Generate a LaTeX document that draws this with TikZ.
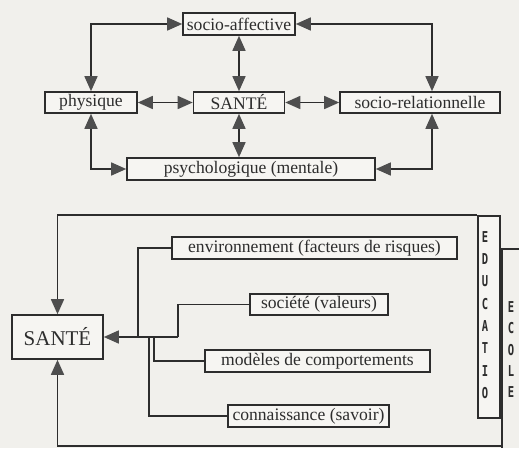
\documentclass[tikz,border=0pt]{standalone}
\usepackage{fontspec}
\setmainfont{Liberation Serif}
\newfontfamily\lettfont{DejaVu Sans Mono}
\usetikzlibrary{arrows.meta,calc}
\definecolor{bg}{RGB}{241,240,236}
\definecolor{boxbg}{RGB}{246,245,242}
\definecolor{ln}{RGB}{45,45,45}
\definecolor{ah}{RGB}{78,78,78}
\newcommand{\narrowlet}[1]{\scalebox{0.7}[1]{#1}}
\begin{document}
\begin{tikzpicture}[x=1pt,y=-1pt,
  box/.style={draw=ln, line width=1.6pt, fill=boxbg, inner sep=0pt,
    font=\fontsize{17.6}{20}\selectfont, text=ln},
  conn/.style={draw=ln, line width=1.5pt},
  arr/.style={conn, -{Triangle[length=15pt,width=13pt,color=ah]}},
  dbl/.style={conn, {Triangle[length=15pt,width=13pt,color=ah]}-{Triangle[length=15pt,width=13pt,color=ah]}},
  letter/.style={inner sep=0pt, text=ln, font=\lettfont\bfseries\fontsize{15}{15}\selectfont}]
\useasboundingbox (0,0) rectangle (519,448);
\fill[bg] (0,0) rectangle (519,448);

% ---------- top diagram ----------
\node[box, minimum width=112pt, minimum height=22pt] (sa) at (239,24) {socio-affective};
\node[box, minimum width=92pt, minimum height=21pt] (ph) at (91,102.5) {physique};
\node[box, minimum width=91pt, minimum height=21pt] (s1) at (239,102.5) {SANTÉ};
\node[box, minimum width=160pt, minimum height=21pt] (sr) at (420,102.5) {socio-relationnelle};
\node[box, minimum width=248pt, minimum height=22pt] (ps) at (251,169) {psychologique (mentale)};

\draw[dbl] (sa.west) -| (ph.north);
\draw[dbl] (sa.east) -| ([xshift=12pt]sr.north);
\draw[dbl] (sa.south) -- (s1.north);
\draw[dbl] (ph.east) -- (s1.west);
\draw[dbl] (s1.east) -- (sr.west);
\draw[dbl] (s1.south) -- (s1.south |- ps.north);
\draw[dbl] (ph.south) |- (ps.west);
\draw[dbl] ([xshift=12pt]sr.south) |- (ps.east);

% ---------- bottom diagram ----------
\node[box, minimum width=91pt, minimum height=44pt, font=\fontsize{21}{23}\selectfont] (s2) at (57.5,337) {SANTÉ};
\node[box, minimum width=285pt, minimum height=22pt] (env) at (314.5,248) {environnement (facteurs de risques)};
\node[box, minimum width=138pt, minimum height=21pt] (soc) at (319,304.5) {société (valeurs)};
\node[box, minimum width=225pt, minimum height=22pt] (mod) at (317.5,361) {modèles de comportements};
\node[box, minimum width=161pt, minimum height=22pt] (con) at (308.5,416) {connaissance (savoir)};
\node[box, minimum width=22pt, minimum height=202pt] (educ) at (489,317) {};

\coordinate (ec) at (502,446);
\coordinate (ecTop) at (519,249);
\coordinate (ecBot) at (502,448);
\draw[conn] (ecTop) -| (ecBot);
\draw[arr] (educ.north west) -| (s2.north);
\draw[arr] (ec) -| (s2.south);

\coordinate (j) at (178,337);
\coordinate (b1) at (138,337);
\coordinate (b3) at (154,337);
\coordinate (b4) at (149,337);
\draw[arr] (j) -- (s2.east);
\draw[conn] (b1) |- (env.west);
\draw[conn] (j) |- (soc.west);
\draw[conn] (b3) |- (mod.west);
\draw[conn] (b4) |- (con.west);

\foreach \l [count=\i] in {E,D,U,C,A,T,I,O}
  \node[letter] (edu\i) at (485,{237+(\i-1)*22.3}) {\narrowlet{\l}};
\foreach \l [count=\i] in {E,C,O,L,E}
  \node[letter] (eco\i) at (511,{307+(\i-1)*21.3}) {\narrowlet{\l}};
\end{tikzpicture}
\end{document}
